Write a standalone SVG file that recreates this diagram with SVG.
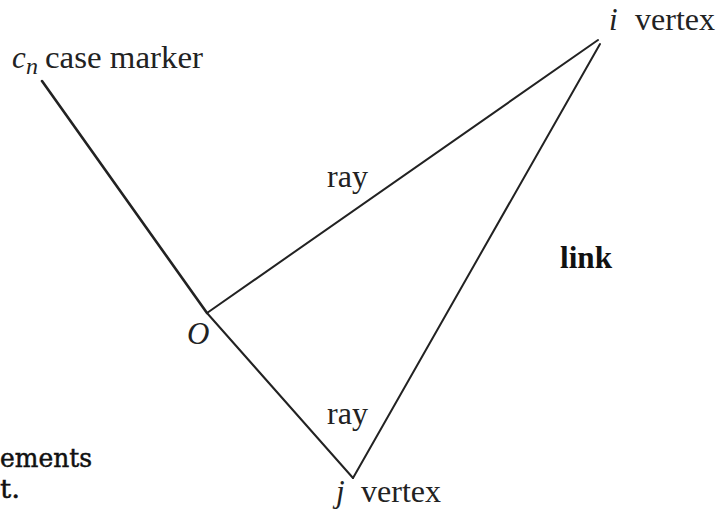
<svg xmlns="http://www.w3.org/2000/svg" width="720" height="509" viewBox="0 0 720 509">
<style>
.lbl{font-family:"Liberation Serif",serif;font-size:31px;fill:#222}
.it{font-style:italic}
.bd{font-weight:bold;fill:#111}
.mono{font-family:"DejaVu Serif",serif;font-size:26px;fill:#111;stroke:#111;stroke-width:0.5}
.edge{stroke:#222;stroke-width:2;fill:none;stroke-linecap:round}
</style>
<rect width="720" height="509" fill="#fff"/>
<g id="connectors">
<line class="edge" x1="42" y1="81" x2="207" y2="313" style="stroke-width:2.6"/>
<line class="edge" x1="207" y1="313" x2="598" y2="40"/>
<line class="edge" x1="207" y1="313" x2="353" y2="478"/>
<line class="edge" x1="600" y1="44" x2="353" y2="478"/>
</g>
<g id="case-marker">
<text class="lbl it" x="12" y="68">c</text>
<text class="lbl it" x="26" y="74" style="font-size:24px">n</text>
<text class="lbl" x="45" y="68" textLength="158" lengthAdjust="spacingAndGlyphs">case marker</text>
</g>
<g id="i-vertex">
<text class="lbl it" x="609" y="30">i</text>
<text class="lbl" x="635" y="30" textLength="80" lengthAdjust="spacingAndGlyphs">vertex</text>
</g>
<g id="origin">
<text class="lbl it" x="187" y="344">O</text>
</g>
<g id="j-vertex">
<text class="lbl it" x="336" y="502">j</text>
<text class="lbl" x="361" y="502" textLength="80" lengthAdjust="spacingAndGlyphs">vertex</text>
</g>
<g id="labels">
<text class="lbl" x="327" y="187" textLength="41" lengthAdjust="spacingAndGlyphs">ray</text>
<text class="lbl" x="327" y="424" textLength="41" lengthAdjust="spacingAndGlyphs">ray</text>
<text class="lbl bd" x="560" y="268" textLength="52" lengthAdjust="spacingAndGlyphs">link</text>
</g>
<g id="margin-text">
<text class="mono" x="0" y="467" textLength="92" lengthAdjust="spacingAndGlyphs">ements</text>
<text class="mono" x="0" y="498" textLength="20" lengthAdjust="spacingAndGlyphs">t.</text>
</g>
</svg>
